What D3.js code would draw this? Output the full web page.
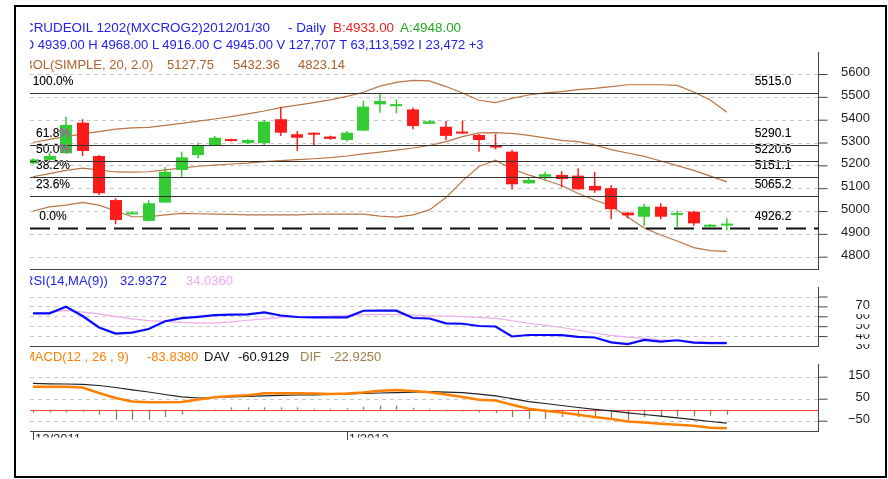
<!DOCTYPE html>
<html>
<head>
<meta charset="utf-8">
<script src="https://cdn.jsdelivr.net/npm/d3@7"></script>
<style>
body { margin: 0; background: #fff; }
svg { display: block; }
text { font-family: Arial, "Liberation Sans", sans-serif; }
</style>
</head>
<body>
<svg id="chart" width="888" height="479"></svg>
<script>
// daily candles, oldest first (last one is 2012/01/30)
const opens  = [5208,5224,5253,5387,5241,5048,4990,4957,5037,5180,5245,5286,5315,5297,5297,5402,5336,5343,5326,5311,5352,5467,5465,5445,5382,5369,5348,5333,5287,5260,5121,5150,5158,5155,5110,5100,4993,4975,5019,4988,4997,4937,4939]
const highs  = [5230,5255,5413,5402,5245,5056,5000,5048,5192,5260,5299,5329,5316,5315,5399,5457,5350,5344,5330,5350,5483,5515,5489,5452,5398,5394,5396,5337,5337,5267,5145,5172,5175,5187,5172,5114,4997,5031,5034,5001,5001,4944,4968]
const lows   = [5205,5216,5250,5241,5070,4942,4985,4955,5035,5150,5231,5285,5304,5294,5285,5329,5264,5285,5312,5304,5350,5430,5428,5358,5380,5311,5337,5260,5270,5095,5120,5133,5104,5093,5080,4964,4968,4934,4964,4931,4936,4933,4916]
const closes = [5226,5241,5377,5263,5078,4961,4994,5034,5172,5235,5286,5321,5308,5311,5391,5343,5321,5341,5316,5343,5457,5482,5468,5372,5393,5329,5346,5311,5285,5117,5136,5161,5140,5095,5090,5008,4981,5019,4975,4991,4946,4940,4945]

// BOL(SIMPLE, 20, 2.0)
const bolMid   = [5150,5164,5178,5188,5180,5171,5170,5172,5180,5188,5196,5201,5206,5210,5216,5221,5225,5229,5234,5241,5250,5258,5267,5276,5287,5304,5326,5342,5343,5340,5331,5320,5309,5304,5289,5269,5254,5239,5219,5199,5178,5153,5127.75]
const bolUpper = [5300,5314,5326,5338,5348,5359,5364,5366,5375,5384,5394,5403,5413,5425,5438,5453,5464,5475,5487,5502,5520,5547,5563,5572,5570,5545,5517,5485,5475,5493,5508,5517,5523,5532,5537,5545,5553,5553,5553,5550,5521,5486,5432.36]
const bolLower = [5000,5018,5026,5038,5026,5000,4975,4975,4983,4990,4988,4986,4985,4983,4983,4983,4983,4986,4986,4986,4986,4978,4973,4983,5005,5059,5132,5195,5223,5184,5158,5136,5112,5077,5048,5022,4974,4926,4895,4869,4840,4827,4823.14]

// fibonacci retracement
const fibLabels = ["100.0%","61.8%","50.0%","38.2%","23.6%","0.0%"]
const fibValues = [5515.0,5290.1,5220.6,5151.1,5065.2,4926.2]

// RSI(14, MA(9))
const rsi   = [63.0,63.0,69.7,60.3,48.7,42.6,43.6,47.2,55.0,58.1,59.5,61.1,61.6,61.9,63.9,60.8,59.3,59.0,59.0,59.0,65.6,65.7,65.7,58.3,57.8,52.9,52.5,50.2,49.7,39.6,41.1,41.1,40.9,39.3,38.6,33.7,32.0,36.1,34.5,35.8,33.5,33.0,32.9372]
const rsiMa = [63.0,64.3,66.0,64.3,62.5,60.0,57.4,55.6,54.8,53.9,53.2,53.2,54.3,56.0,57.4,58.9,59.5,59.8,60.2,61.0,61.6,62.0,61.8,61.4,60.3,60.3,59.6,58.8,58.0,55.5,53.0,50.8,48.7,45.9,43.1,40.8,38.9,37.8,36.3,35.3,34.4,33.9,34.036]

// MACD(12, 26, 9)
const macd = [104.5,104.5,104.5,100.9,75.9,53.2,37.3,33.6,33.6,35.0,46.4,56.8,62.3,65.9,74.5,74.5,74.5,73.6,71.4,73.6,78.2,86.4,89.5,85.0,79.1,69.1,57.7,45.0,41.8,22.7,4.5,-5.0,-12.7,-22.7,-33.2,-42.3,-53.2,-58.6,-64.1,-68.6,-73.2,-81.8,-83.838]
const dav  = [120,117.7,116.8,115.5,110,100.9,90.5,80.5,69.1,58.6,53.2,55.5,58.6,60.9,63.2,65,66.8,67.7,69.1,71.4,73.6,75.9,77.7,80,81.8,79.5,77.3,70.5,62.7,50.5,36.4,28.2,19.1,10,1.8,-5,-14.1,-21.8,-29.5,-36.8,-45.5,-53.6,-60.9129]
const dif  = [-13.6,-12.3,-12.3,-9.1,-22.7,-45.5,-45.5,-45.5,-33.2,-22.7,-7.7,2,10.5,10.5,10.5,10.5,10.5,4.5,4.5,6.8,13.6,18.2,18.2,9.1,4.5,-7.7,-9.1,-12.3,-15,-33.2,-40.9,-40.9,-33.2,-33.2,-37.7,-45.5,-50,-33.2,-33.2,-30.5,-30.5,-27.3,-22.925]

// axis ticks
const priceTicks = [4800,4900,5000,5100,5200,5300,5400,5500,5600]
const rsiTicks = [40,50,60,70,80]
const rsiTickLabels = [30,40,50,60,70]
const macdTicks = [-50,50,150]
const dateTickIdx = [0,19]
const dateTickLabels = ["12/2011","1/2012"]

const width = 888, height = 479
const left = 30, axisX = 818.5
const blue = "#2222ee", up = "#33cc33", down = "#ff1a1a", bolColor = "#bb7444"

const svg = d3.select("#chart")

svg.append("rect").attr("width", width).attr("height", height).attr("fill", "#fff")

svg.append("clipPath").attr("id", "clip")
    .append("rect").attr("x", left).attr("y", 7).attr("width", 855).attr("height", 469)
svg.append("clipPath").attr("id", "clipDates")
    .append("rect").attr("x", left).attr("y", 420).attr("width", 800).attr("height", 17.5)

const g = svg.append("g").attr("clip-path", "url(#clip)")
g.append("rect").attr("width", width).attr("height", height).attr("fill", "#fff")

const x = d3.scaleLinear().domain([0, closes.length - 1]).range([33, 726.8])
const yP = d3.scaleLinear().domain([4800, 5600]).range([256.7, 74])
const yR = d3.scaleLinear().domain([30, 80]).range([346, 296.5])
const yM = d3.scaleLinear().domain([-50, 150]).range([420.7, 376.7])

const px = v => Math.round(v) + 0.5

// dashed grid
function grid(scale, ticks) {
    g.append("g").selectAll("line")
        .data(ticks)
        .join("line")
        .attr("x1", left).attr("x2", axisX)
        .attr("y1", d => px(scale(d))).attr("y2", d => px(scale(d)))
        .attr("stroke", "#c8c8c8")
        .attr("stroke-dasharray", "4,4")
}
grid(yP, priceTicks)
grid(yR, rsiTicks)
grid(yM, macdTicks)

// panel bottoms and right axes
const panels = [[52, 269], [287, 346], [364, 431]]
panels.forEach(([top, bottom]) => {
    g.append("line").attr("x1", left).attr("x2", axisX)
        .attr("y1", bottom + 0.5).attr("y2", bottom + 0.5)
        .attr("stroke", "#444")
    g.append("line").attr("x1", axisX).attr("x2", axisX)
        .attr("y1", top).attr("y2", bottom + 1)
        .attr("stroke", "#444")
})

function rightAxis(scale, ticks, withText) {
    const a = g.append("g")
        .attr("transform", `translate(${axisX},0)`)
        .call(d3.axisRight(scale).tickValues(ticks).tickSize(9).tickFormat(withText ? d3.format("d") : ""))
    a.select(".domain").remove()
    a.attr("font-family", null).attr("font-size", 13)
    a.selectAll(".tick line").attr("stroke", "#444")
    a.selectAll(".tick text")
        .attr("x", 870 - axisX).attr("y", -3).attr("dy", "0.35em")
        .attr("text-anchor", "end").attr("fill", "#222")
}
rightAxis(yP, priceTicks, true)
rightAxis(yR, rsiTicks, false)
rightAxis(yM, macdTicks, true)

// RSI labels sit one step below their ticks and overlap each other
const rl = g.append("g")
rsiTickLabels.forEach(v => {
    const cy = yR(v) - 2
    rl.append("rect").attr("x", 850).attr("y", cy - 6).attr("width", 24).attr("height", 16).attr("fill", "#fff")
    rl.append("text").attr("x", 870).attr("y", cy).attr("dy", "0.35em")
        .attr("text-anchor", "end").attr("font-size", 13).attr("fill", "#222")
        .text(v)
})

// date axis
g.append("g").selectAll("line")
    .data(dateTickIdx)
    .join("line")
    .attr("x1", d => px(x(d))).attr("x2", d => px(x(d)))
    .attr("y1", 431).attr("y2", 440)
    .attr("stroke", "#444")
g.append("g").attr("clip-path", "url(#clipDates)")
    .selectAll("text")
    .data(dateTickIdx)
    .join("text")
    .attr("x", d => x(d) + 2).attr("y", 443)
    .attr("font-size", 13).attr("fill", "#222")
    .text((d, i) => dateTickLabels[i])

// bollinger bands
const line = d3.line().x((d, i) => x(i)).y(d => yP(d))
;[bolUpper, bolMid, bolLower].forEach(s => {
    g.append("path").datum(s)
        .attr("d", line)
        .attr("fill", "none")
        .attr("stroke", bolColor)
        .attr("stroke-width", 1.2)
})

// candles
const candles = g.append("g").selectAll("g")
    .data(d3.range(closes.length))
    .join("g")
    .attr("fill", i => closes[i] >= opens[i] ? up : down)
    .attr("stroke", i => closes[i] >= opens[i] ? up : down)
candles.append("line")
    .attr("x1", i => x(i)).attr("x2", i => x(i))
    .attr("y1", i => yP(highs[i])).attr("y2", i => yP(lows[i]))
    .attr("stroke-width", 1.5)
candles.append("rect")
    .attr("x", i => Math.round(x(i)) - 6)
    .attr("y", i => yP(Math.max(opens[i], closes[i])))
    .attr("width", 12)
    .attr("height", i => Math.max(2, Math.abs(yP(opens[i]) - yP(closes[i]))))
    .attr("stroke", "none")

// fibonacci lines and labels
g.append("g").selectAll("line")
    .data(fibValues)
    .join("line")
    .attr("x1", left).attr("x2", axisX)
    .attr("y1", d => px(yP(d))).attr("y2", d => px(yP(d)))
    .attr("stroke", (d, i) => i === fibValues.length - 1 ? "#111" : "#333")
    .attr("stroke-width", (d, i) => i === fibValues.length - 1 ? 2 : 1.2)
    .attr("stroke-dasharray", (d, i) => i === fibValues.length - 1 ? "20,8" : null)

const fibText = g.append("g")
    .attr("font-size", 12)
    .attr("fill", "#fff")
    .style("mix-blend-mode", "difference")
fibText.selectAll(".pct")
    .data(fibValues)
    .join("text")
    .attr("class", "pct")
    .attr("x", 53).attr("y", d => yP(d) - 8)
    .attr("text-anchor", "middle")
    .text((d, i) => fibLabels[i])
fibText.selectAll(".val")
    .data(fibValues)
    .join("text")
    .attr("class", "val")
    .attr("x", 773).attr("y", d => yP(d) - 8)
    .attr("text-anchor", "middle")
    .text(d => d.toFixed(1))

// RSI
const rsiLine = d3.line().x((d, i) => x(i)).y(d => yR(d))
g.append("path").datum(rsiMa).attr("d", rsiLine)
    .attr("fill", "none").attr("stroke", "#eeaaee").attr("stroke-width", 1.2)
g.append("path").datum(rsi).attr("d", rsiLine)
    .attr("fill", "none").attr("stroke", "#0a0aff").attr("stroke-width", 2.2)

// MACD
g.append("line").attr("x1", left).attr("x2", axisX)
    .attr("y1", px(yM(0))).attr("y2", px(yM(0)))
    .attr("stroke", "#ff4040")
g.append("g").selectAll("line")
    .data(dif)
    .join("line")
    .attr("x1", (d, i) => px(x(i))).attr("x2", (d, i) => px(x(i)))
    .attr("y1", yM(0)).attr("y2", d => yM(d))
    .attr("stroke", "#9c7a40")
    .attr("stroke-width", 1.3)
const macdLine = d3.line().x((d, i) => x(i)).y(d => yM(d))
g.append("path").datum(dav).attr("d", macdLine)
    .attr("fill", "none").attr("stroke", "#222").attr("stroke-width", 1.2)
g.append("path").datum(macd).attr("d", macdLine)
    .attr("fill", "none").attr("stroke", "#ff8000").attr("stroke-width", 2.5)

// header texts
function label(y, parts, size) {
    const t = g.append("text").attr("y", y).attr("font-size", size || 13).style("white-space", "pre")
    parts.forEach(([xx, txt, col]) => {
        t.append("tspan").attr("x", xx).attr("fill", col).text(txt)
    })
}
label(32, [[24, "CRUDEOIL 1202(MXCROG2)2012/01/30", blue], [288, "- Daily", blue],
    [333, "B:4933.00", "#ee2222"], [400, "A:4948.00", "#22aa22"]], 13.4)
label(48.7, [[24, "O 4939.00 H 4968.00 L 4916.00 C 4945.00 V 127,707 T 63,113,592 I 23,472 +3", blue]])
label(69, [[24, "BOL(SIMPLE, 20, 2.0)", "#b0602a"], [167, "5127.75", "#b0602a"],
    [233, "5432.36", "#b0602a"], [298, "4823.14", "#b0602a"]])
label(284.7, [[24, "RSI(14,MA(9))", blue], [120, "32.9372", blue], [186, "34.0360", "#eeaaee"]])
label(360.7, [[24, "MACD(12 , 26 , 9)", "#ff8000"], [147, "-83.8380", "#ff8000"],
    [204, "DAV", "#111"], [238, "-60.9129", "#111"],
    [300, "DIF", "#a08048"], [330, "-22.9250", "#a08048"]])

// outer frame
svg.append("rect")
    .attr("x", 15).attr("y", 6).attr("width", 871).attr("height", 471)
    .attr("fill", "none").attr("stroke", "#000").attr("stroke-width", 2)
</script>
</body>
</html>
